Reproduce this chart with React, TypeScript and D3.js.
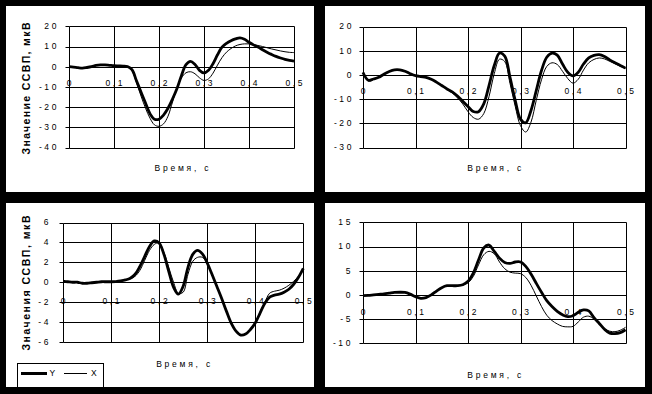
import React from "react";
import * as d3 from "d3";

// ---------- data ----------
const time = [
  0, 0.01, 0.02, 0.03, 0.04, 0.05, 0.06, 0.07, 0.08, 0.09,
  0.1, 0.11, 0.12, 0.13, 0.14, 0.15, 0.16, 0.17, 0.18, 0.19,
  0.2, 0.21, 0.22, 0.23, 0.24, 0.25, 0.26, 0.27, 0.28, 0.29,
  0.3, 0.31, 0.32, 0.33, 0.34, 0.35, 0.36, 0.37, 0.38, 0.39,
  0.4, 0.41, 0.42, 0.43, 0.44, 0.45, 0.46, 0.47, 0.48, 0.49, 0.5,
];
const xTicks = [0, 0.1, 0.2, 0.3, 0.4, 0.5];

const p1Y = [
  0, -0.2, -0.5, -0.7, -0.4, 0, 0.6, 0.9, 0.9, 0.7,
  0.5, 0.4, 0.3, 0.1, -1.5, -7, -12.5, -18, -23.3, -26,
  -26, -24, -20.6, -16, -10.8, -4.3, 1, 2.6, 1.1, -1.8,
  -3.1, -1.8, 1.5, 5.9, 9.7, 11.6, 12.9, 13.8, 14.3, 13.6,
  12.1, 10.8, 9.7, 8.4, 7.2, 6.1, 5.1, 4.3, 3.6, 3.1, 2.8,
];
const p1X = [
  0, -0.2, -0.5, -0.7, -0.4, 0, 0.6, 0.9, 0.9, 0.7,
  0.5, 0.4, 0.3, 0.1, -2, -8, -14.5, -20.5, -25.5, -28.8,
  -29.5, -28.3, -24.5, -17.5, -10.5, -5.5, -3, -2.5, -3.5, -5.5,
  -6.8, -6, -3.2, 0.8, 4.5, 7.2, 9, 10.3, 11, 11.3,
  11.3, 11, 10.5, 10, 9.4, 8.8, 8.3, 7.8, 7.4, 7.1, 7.0,
];
const p1Ticks = [-40, -30, -20, -10, 0, 10, 20];

const p2Y = [
  1.0, -2.2, -1.7, -1.0, 0.3, 1.4, 2.1, 2.1, 1.5, 0.5,
  -0.3, -0.7, -1.0, -1.8, -3, -4.4, -5.8, -7, -8.7, -10.9,
  -13.1, -15.1, -15.2, -12, -4.4, 3.9, 9.0, 7.8, -1, -10.6,
  -18.3, -19.8, -14.7, -6.5, 1.8, 7.3, 9.0, 8.2, 4.5, 1.1,
  -0.4, 1.1, 4.5, 7, 8.1, 8.4, 7.6, 6.2, 5, 3.9, 2.8,
];
const p2X = [
  1.0, -2.5, -1.9, -1.0, 0.3, 1.4, 2.0, 2.0, 1.5, 0.5,
  -0.3, -0.7, -1.0, -1.8, -3, -4.5, -6, -7.5, -9.5, -12,
  -15.2, -17.6, -18.3, -16, -9, 0.5, 6.5, 5.5, -3.5, -13,
  -21, -23.6, -19.5, -10.5, -2, 3.5, 5.0, 4.3, 1.5, -1.5,
  -3.4, -1.8, 2, 5, 6.4, 7, 6.6, 5.6, 4.6, 3.6, 2.6,
];
const p2Ticks = [-30, -20, -10, 0, 10, 20];

const p3Y = [
  0.1, 0.05, 0, 0, -0.1, -0.1, -0.05, 0, 0.05, 0.05,
  0.05, 0.07, 0.13, 0.23, 0.4, 0.8, 1.6, 2.6, 3.6, 4.15,
  3.95, 2.8, 1.1, -0.5, -1.2, -0.4, 1.5, 2.8, 3.2, 2.85,
  1.95, 0.8, -0.4, -1.6, -2.9, -4.1, -4.9, -5.3, -5.2, -4.75,
  -4.1, -3.1, -2.1, -1.5, -1.3, -1.2, -1.0, -0.7, -0.2, 0.5, 1.4,
];
const p3X = [
  0.1, 0.05, 0, 0, -0.1, -0.1, -0.05, 0, 0.05, 0.05,
  0.05, 0.07, 0.13, 0.23, 0.35, 0.6, 1.2, 2.2, 3.2, 3.8,
  3.95, 3.0, 1.5, 0.0, -1.1, -1.0, 0.8, 2.1, 2.5, 2.5,
  1.9, 0.8, -0.4, -1.6, -2.9, -4.1, -4.9, -5.3, -5.2, -4.75,
  -4.0, -3.0, -2.0, -1.1, -0.9, -0.8, -0.6, -0.3, 0.1, 0.6, 1.3,
];
const p3Ticks = [-6, -4, -2, 0, 2, 4, 6];

const p4Y = [
  -0.15, -0.1, 0, 0.1, 0.2, 0.35, 0.5, 0.55, 0.5, 0.15,
  -0.35, -0.7, -0.55, 0, 0.8, 1.5, 1.9, 1.9, 1.9, 2.1,
  2.8, 4.5, 7.2, 9.7, 10.3, 9, 7.6, 6.7, 6.5, 6.8,
  6.8, 5.9, 4.3, 2.4, 0.55, -1.2, -2.4, -3.4, -4.1, -4.5,
  -4.3, -3.6, -3.1, -3.3, -4.7, -5.9, -7.1, -7.9, -8.0, -7.8, -7.2,
];
const p4X = [
  -0.15, -0.1, 0, 0.1, 0.2, 0.35, 0.5, 0.55, 0.5, 0.15,
  -0.35, -0.7, -0.55, 0, 0.8, 1.5, 1.9, 1.9, 1.9, 2.0,
  2.5, 3.8, 6.2, 8.3, 9.0, 8.5, 6.8, 5.4, 4.7, 4.5,
  4.4, 3.6, 2.0, -0.2, -2.4, -4.2, -5.3, -6.0, -6.5, -6.6,
  -6.5, -5.6, -4.6, -4.4, -5.0, -6.0, -7.0, -7.5, -7.6, -7.3, -6.7,
];
const p4Ticks = [-10, -5, 0, 5, 10, 15];

const xTitle = "Время, с";
const legendLabels = ["Y", "X"];

// ---------- layout ----------
const W = 652;
const H = 394;
const FONT = "Arial, 'Liberation Sans', sans-serif";

type PanelCfg = {
  box: [number, number, number, number];
  px: [number, number];
  py: [number, number];
  ticks: number[];
  yData: number[];
  xData: number[];
  xLabelY: number;
  xTitleY: number;
  yLabelGap: number;
  yTitle?: { text: string; x: number; cy: number; len: number };
};

const panels: PanelCfg[] = [
  {
    box: [6, 6, 308, 186],
    px: [69, 294],
    py: [147.5, 26.3],
    ticks: p1Ticks,
    yData: p1Y,
    xData: p1X,
    xLabelY: 83,
    xTitleY: 168.5,
    yLabelGap: 10,
    yTitle: { text: "Значение ССВП, мкВ", x: 26, cy: 88.5, len: 132 },
  },
  {
    box: [325, 6, 320, 186],
    px: [363, 625.5],
    py: [147.5, 26.5],
    ticks: p2Ticks,
    yData: p2Y,
    xData: p2X,
    xLabelY: 91,
    xTitleY: 168.5,
    yLabelGap: 9,
  },
  {
    box: [6, 203, 308, 184],
    px: [63, 303.3],
    py: [342, 222.5],
    ticks: p3Ticks,
    yData: p3Y,
    xData: p3X,
    xLabelY: 301.5,
    xTitleY: 364.5,
    yLabelGap: 12,
    yTitle: { text: "Значения ССВП, мкВ", x: 26.5, cy: 283, len: 135 },
  },
  {
    box: [325, 203, 320, 184],
    px: [363, 625.5],
    py: [343.3, 222.3],
    ticks: p4Ticks,
    yData: p4Y,
    xData: p4X,
    xLabelY: 312.5,
    xTitleY: 375,
    yLabelGap: 10,
  },
];

const crisp = (v: number) => Math.round(v) + 0.5;
const fmtX = (v: number) => (v === 0 ? "0" : String(v).replace(".", ","));

function Panel({ cfg }: { cfg: PanelCfg }) {
  const ext = d3.extent(cfg.ticks) as [number, number];
  const x = d3.scaleLinear().domain([0, 0.5]).range(cfg.px);
  const y = d3.scaleLinear().domain(ext).range(cfg.py);
  const line = d3
    .line<number>()
    .x((_, i) => x(time[i]))
    .y((d) => y(d))
    .curve(d3.curveCatmullRom.alpha(0.5));
  const [bx, by, bw, bh] = cfg.box;
  const x0 = crisp(x(0));
  const x1 = crisp(x(0.5));
  const yTop = crisp(y(ext[1]));
  const yBot = crisp(y(ext[0]));
  const cx = (cfg.px[0] + cfg.px[1]) / 2;
  return (
    <g>
      <rect x={bx} y={by} width={bw} height={bh} fill="#fff" />
      {/* horizontal gridlines */}
      {cfg.ticks.map((t) => (
        <line key={"h" + t} x1={x0} x2={x1} y1={crisp(y(t))} y2={crisp(y(t))} stroke="#000" strokeWidth={1} />
      ))}
      {/* vertical gridlines */}
      {xTicks.map((t) => (
        <line key={"v" + t} x1={crisp(x(t))} x2={crisp(x(t))} y1={yTop} y2={yBot} stroke="#000" strokeWidth={1} />
      ))}
      {/* y ticks */}
      {cfg.ticks.map((t) => (
        <line key={"t" + t} x1={x0 - 4} x2={x0} y1={crisp(y(t))} y2={crisp(y(t))} stroke="#000" strokeWidth={1} />
      ))}
      {cfg.ticks.map((t) => (
        <text
          key={"l" + t}
          x={x(0) - cfg.yLabelGap}
          y={y(t)}
          dy="0.35em"
          textAnchor="end"
          fontFamily={FONT}
          fontSize={8.5}
          letterSpacing={2.6}
        >
          {String(t)}
        </text>
      ))}
      {xTicks.map((t) => (
        <text
          key={"xl" + t}
          x={x(t) + 1.3}
          y={cfg.xLabelY}
          dy="0.35em"
          textAnchor="middle"
          fontFamily={FONT}
          fontSize={8.5}
          letterSpacing={2.6}
        >
          {fmtX(t)}
        </text>
      ))}
      <path d={line(cfg.xData) || ""} fill="none" stroke="#000" strokeWidth={1} />
      <path d={line(cfg.yData) || ""} fill="none" stroke="#000" strokeWidth={2.8} strokeLinejoin="round" />
      <text
        x={cx - 27}
        y={cfg.xTitleY}
        dy="0.35em"
        fontFamily={FONT}
        fontSize={8.5}
        textLength={54}
        lengthAdjust="spacing"
      >
        {xTitle}
      </text>
      {cfg.yTitle && (
        <text
          transform={`translate(${cfg.yTitle.x},${cfg.yTitle.cy + cfg.yTitle.len / 2}) rotate(-90)`}
          dy="0.35em"
          fontFamily={FONT}
          fontWeight="bold"
          fontSize={10.5}
          textLength={cfg.yTitle.len}
          lengthAdjust="spacing"
        >
          {cfg.yTitle.text}
        </text>
      )}
    </g>
  );
}

export default function App() {
  return (
    <svg
      width={W}
      height={H}
      viewBox={`0 0 ${W} ${H}`}
      style={{ position: "absolute", left: 0, top: 0, display: "block" }}
    >
      <rect x={0} y={0} width={W} height={H} fill="#000" />
      {panels.map((p, i) => (
        <Panel key={i} cfg={p} />
      ))}
      {/* legend */}
      <g>
        <rect x={17.5} y={363.5} width={86} height={24} fill="#fff" stroke="#000" strokeWidth={1} />
        <line x1={21} x2={47} y1={373.5} y2={373.5} stroke="#000" strokeWidth={3} />
        <text x={49.5} y={373} dy="0.35em" fontFamily={FONT} fontSize={8.5}>
          {legendLabels[0]}
        </text>
        <line x1={64} x2={87} y1={373.5} y2={373.5} stroke="#000" strokeWidth={1} />
        <text x={91} y={373} dy="0.35em" fontFamily={FONT} fontSize={8.5}>
          {legendLabels[1]}
        </text>
      </g>
    </svg>
  );
}
